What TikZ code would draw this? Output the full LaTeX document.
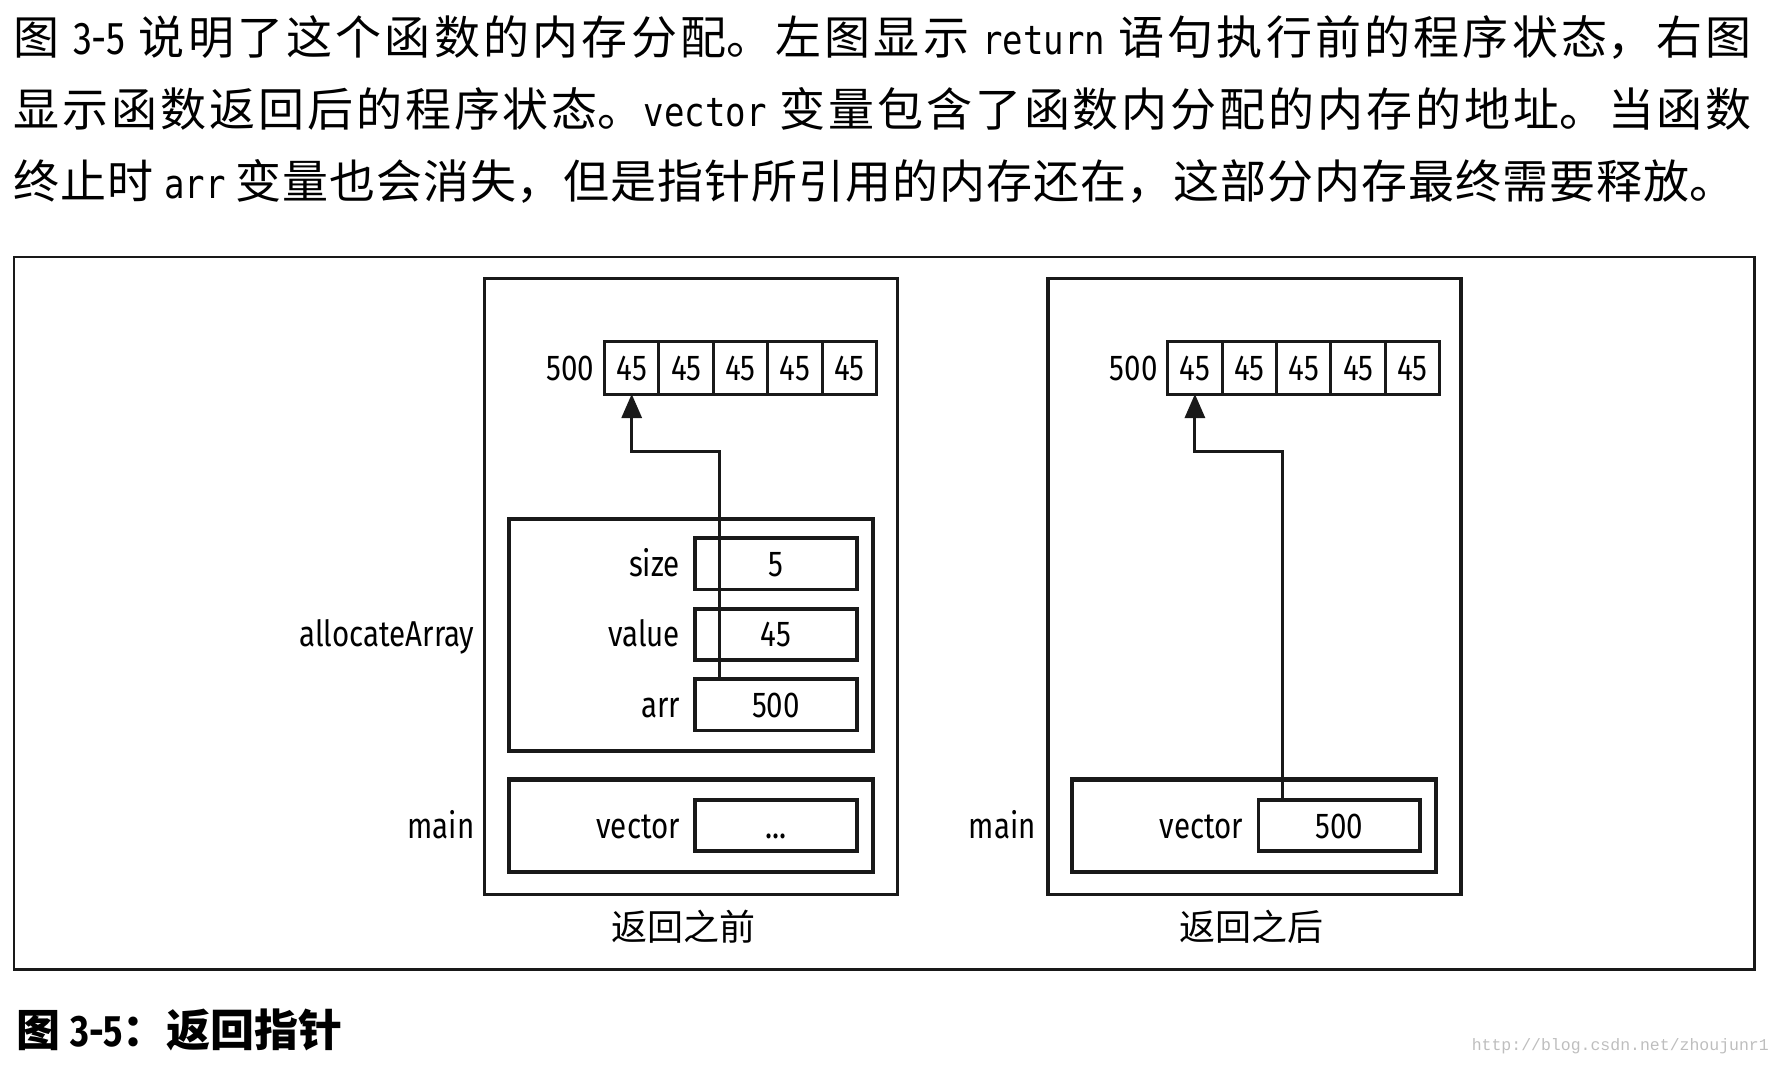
\documentclass[tikz,border=0pt]{standalone}
\usepackage{fontspec}
\setmainfont{Fira Sans}
\newfontfamily\cjk{Noto Sans CJK SC}
\newfontfamily\labfont[FakeStretch=0.82]{Fira Sans}
\newfontfamily\codefont[FakeStretch=0.85,Scale=0.87]{DejaVu Sans Mono}
\newfontfamily\urlfont{Liberation Mono}
\usepackage{xcolor}
\usetikzlibrary{matrix,arrows.meta,positioning}
\XeTeXlinebreaklocale "zh"
\XeTeXlinebreakskip=1pt plus 4pt
\definecolor{inkgray}{RGB}{25,25,25}
\definecolor{markgray}{RGB}{190,190,190}
\tikzset{
	border/.style={draw=inkgray, line width=2.2pt, inner sep=0, outer sep=0},
	frame/.style={draw=inkgray, line width=3.2pt, inner sep=0, outer sep=0, minimum width=413pt, minimum height=615.5pt},
	stack/.style={draw=inkgray, line width=4.2pt, inner sep=0, outer sep=0, minimum width=364.1pt},
	field/.style={draw=inkgray, line width=3.6pt, inner sep=0, outer sep=0, minimum width=161.6pt, minimum height=51.2pt, text height=25pt, text depth=0pt, font=\fontsize{36}{40}\selectfont\labfont},
	cell/.style={draw=inkgray, line width=3pt, inner sep=0, outer sep=0, minimum width=54.4pt, minimum height=52.3pt, text height=25pt, text depth=0pt, font=\fontsize{36}{40}\selectfont\labfont},
	lab/.style={inner sep=0, font=\fontsize{36}{40}\selectfont\labfont},
	note/.style={inner sep=0, font=\fontsize{36}{40}\selectfont\cjk},
	para/.style={inner sep=0, anchor=base west, font=\fontsize{46}{55}\selectfont\cjk},
	capt/.style={inner sep=0, anchor=base west, font=\fontsize{44}{50}\selectfont\cjk\bfseries},
	wmark/.style={inner sep=0, anchor=base east, text=markgray, font=\fontsize{16.5}{18}\selectfont\urlfont},
	ptr/.style={draw=inkgray, line width=3pt, -{Triangle[width=20pt,length=24pt]}}
}
\newcommand{\fullline}[1]{\parbox[t]{1738pt}{\parfillskip=0pt\relax #1}}
\newcommand{\lastline}[1]{\parbox[t]{1738pt}{#1}}

\begin{document}
\begin{tikzpicture}[x=1pt, y=-1pt, ampersand replacement=\&]
	\useasboundingbox (0,0) rectangle (1784,1066);
	
	% Text above the figure.
	\node[para] (line1) at (13.7,54) {\fullline{图 {\labfont 3-5} 说明了这个函数的内存分配。左图显示 {\codefont return} 语句执行前的程序状态，右图}};
	\node[para] (line2) at (13.7,126.5) {\fullline{显示函数返回后的程序状态。{\codefont vector} 变量包含了函数内分配的内存的地址。当函数}};
	\node[para] (line3) at (13.7,198.5) {\lastline{终止时 {\codefont arr} 变量也会消失，但是指针所引用的内存还在，这部分内存最终需要释放。}};
	
	\node[border, minimum width=1740.8pt, minimum height=712.4pt, anchor=north west] (figure) at (13.7,257) {};
	
	% Left state (before return) is drawn.
	\node[frame, anchor=north west] (before) at (484.7,278.8) {};
	\matrix (heapL)[matrix of nodes, nodes=cell,
			column sep=-3pt, row sep=0pt, inner sep=0pt, outer sep=0pt,
			below right=61.4pt and 118.3pt of before.north west]{
		45 \& 45 \& 45 \& 45 \& 45 \\ %heapL-1-1 ... heapL-1-5
	};
	\node[lab, anchor=base east, xshift=-10pt] (addrL) at (heapL-1-1.base west) {500};
	
	\node[stack, minimum height=232.2pt, below right=240pt and 23.9pt of before.north west] (allocL) {};
	\node[field, below left=19.4pt and 15.9pt of allocL.north east] (sizeL) {5};
	\node[field, below=19.3pt of sizeL] (valueL) {45};
	\node[field, below=19.3pt of valueL] (arrL) {500};
	\node[lab, anchor=base east, xshift=-15pt] (sizelabL) at (sizeL.base west) {size};
	\node[lab, anchor=base east, xshift=-15pt] (valuelabL) at (valueL.base west) {value};
	\node[lab, anchor=base east, xshift=-15pt] (arrlabL) at (arrL.base west) {arr};
	\node[lab, anchor=base east, xshift=-10pt] (alloclabL) at (before.west |- valueL.base) {allocateArray};
	
	\node[stack, minimum height=92.2pt, below right=500.6pt and 23.9pt of before.north west] (mainL) {};
	\node[field, below left=20.5pt and 15.9pt of mainL.north east] (vectorL) {...};
	\node[lab, anchor=base east, xshift=-15pt] (vectorlabL) at (vectorL.base west) {vector};
	\node[lab, anchor=base east, xshift=-10pt] (mainlabL) at (before.west |- vectorL.base) {main};
	
	\coordinate (outL) at ([xshift=24pt]arrL.north west);
	\coordinate (bendL) at ([yshift=-57pt]heapL-1-1.south);
	\draw[ptr] (outL) |- (bendL) -- (heapL-1-1.south);
	
	\node[note, below=16pt of before, xshift=-8pt] (beforecap) {返回之前};
	
	% Right state (after return) is drawn.
	\node[frame, anchor=north west] (after) at (1047.9,278.8) {};
	\matrix (heapR)[matrix of nodes, nodes=cell,
			column sep=-3pt, row sep=0pt, inner sep=0pt, outer sep=0pt,
			below right=61.4pt and 118.3pt of after.north west]{
		45 \& 45 \& 45 \& 45 \& 45 \\ %heapR-1-1 ... heapR-1-5
	};
	\node[lab, anchor=base east, xshift=-10pt] (addrR) at (heapR-1-1.base west) {500};
	
	\node[stack, minimum height=92.2pt, below right=500.6pt and 23.9pt of after.north west] (mainR) {};
	\node[field, below left=20.5pt and 15.9pt of mainR.north east] (vectorR) {500};
	\node[lab, anchor=base east, xshift=-15pt] (vectorlabR) at (vectorR.base west) {vector};
	\node[lab, anchor=base east, xshift=-12pt] (mainlabR) at (after.west |- vectorR.base) {main};
	
	\coordinate (outR) at ([xshift=24pt]vectorR.north west);
	\coordinate (bendR) at ([yshift=-57pt]heapR-1-1.south);
	\draw[ptr] (outR) |- (bendR) -- (heapR-1-1.south);
	
	\node[note, below=16pt of after, xshift=-3pt] (aftercap) {返回之后};
	
	% Caption and watermark.
	\node[capt] (caption) at (16,1046) {图 {\labfont\bfseries 3-5}：返回指针};
	\node[wmark] (watermark) at (1769,1050) {http://blog.csdn.net/zhoujunr1};
\end{tikzpicture}
\end{document}
